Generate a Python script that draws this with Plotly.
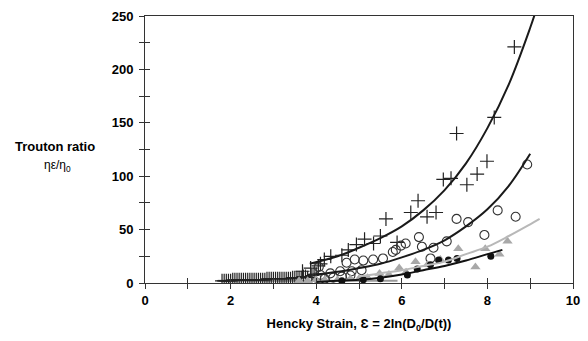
import plotly.graph_objects as go

# ---- data ----
cross_x = [1.8, 1.85, 1.9, 1.95, 1.99, 2.0, 2.05, 2.1, 2.15, 2.2, 2.25, 2.3, 2.35, 2.4, 2.45, 2.5, 2.55, 2.6,
           2.65, 2.7, 2.75, 2.8, 2.85, 2.9, 2.95, 3.0, 3.05, 3.1, 3.15, 3.2, 3.25, 3.3, 3.35, 3.4, 3.45, 3.5,
           3.55, 3.6, 3.65, 3.68, 3.7, 3.75, 3.8, 3.87, 3.9, 3.95, 4.0, 4.05, 4.1, 4.19, 4.34, 4.60, 4.75,
           4.94, 5.13, 5.34, 5.50, 5.63, 5.89, 6.21, 6.38, 6.59, 6.80, 6.97, 7.15, 7.28, 7.52, 7.76, 7.99,
           8.16, 8.63]
cross_y = [2, 2, 2, 2, -3, 2, 3, 3, 3, 3, 3, 3, 3, 3, 3, 3, 3, 3,
           3, 3, 3, 3, 4, 4, 4, 4, 4, 4, 4, 4, 4, 4, 4, 4, 5, 5,
           5, 5, 5, 11, 6, 6, 5, 14, 7, 8, 8, 16, 18, 22, 25, 26, 31,
           36, 41, 37, 44, 60, 38, 66, 77, 62, 66, 97, 98, 140, 92, 102, 114,
           155, 221]

circle_x = [4.0, 4.06, 4.10, 4.2, 4.33, 4.4, 4.56, 4.6, 4.71, 4.8, 4.83, 4.90, 5.06, 5.10, 5.33, 5.56, 5.79,
            5.86, 5.98, 6.09, 6.40, 6.47, 6.67, 6.74, 7.05, 7.28, 7.55, 7.93, 8.24, 8.66, 8.93]
circle_y = [5, 15, 7.5, 4, 9, 5, 11, 6, 19, 7, 11, 22, 12, 21, 22, 23, 29,
            31, 35, 37, 43, 34, 23, 33, 39, 60, 57, 45, 68, 62, 111]

tri_x = [3.6, 3.8, 4.0, 4.2, 4.5, 4.8, 5.0, 5.2, 5.48, 5.7, 5.94, 6.1, 6.32, 6.6, 6.9, 7.32, 7.72, 7.95, 8.28, 8.47]
tri_y = [2, 2, 3, 3, 3, 4, 4, 5, 9, 8, 14, 10, 20, 17, 22, 32, 15, 32, 27, 39]

dot_x = [4.6, 5.10, 5.5, 6.13, 6.36, 6.67, 6.86, 7.09, 7.29, 8.08]
dot_y = [2, 3, 4, 7.5, 13, 17, 21.5, 21.5, 23, 25]

# trend curves
cross_fit_x = [3.85, 4.5, 5.0, 5.5, 6.0, 6.5, 7.0, 7.5, 8.0, 8.5, 9.0, 9.15]
cross_fit_y = [18, 25, 33, 42, 53, 68, 87, 112, 145, 186, 239, 257]
circle_fit_x = [4.0, 4.5, 5.0, 5.5, 6.0, 6.5, 7.0, 7.5, 8.0, 8.5, 9.0]
circle_fit_y = [8, 10.5, 14, 18, 24, 31, 40, 53, 69, 91, 121]
tri_fit_x = [5.0, 5.5, 6.0, 6.5, 7.0, 7.5, 8.0, 8.5, 9.0, 9.22]
tri_fit_y = [6, 9, 12, 16, 20, 27, 34, 44, 55, 60]
dot_fit_x = [4.0, 4.5, 5.0, 5.5, 6.0, 6.5, 7.0, 7.5, 8.0, 8.35]
dot_fit_y = [1, 2, 3, 5, 8, 12, 16, 21, 27, 31]
base_fit_x = [1.7, 5.9]
base_fit_y = [2, 2]

x_ticks = [0, 2, 4, 6, 8, 10]
y_ticks = [0, 50, 100, 150, 200, 250]

FONT = "Liberation Sans, Arial, sans-serif"
BOLD = dict(family=FONT, size=13, color="black", weight="bold")

fig = go.Figure()
fig.add_trace(go.Scatter(x=base_fit_x, y=base_fit_y, mode="lines",
                         line=dict(color="#9a9a9a", width=2)))
fig.add_trace(go.Scatter(x=cross_x, y=cross_y, mode="markers",
                         marker=dict(symbol="cross-thin-open", size=10, color="#222",
                                     line=dict(width=1.2, color="#222"))))
fig.add_trace(go.Scatter(x=circle_x, y=circle_y, mode="markers",
                         marker=dict(symbol="circle-open", size=9, color="#333",
                                     line=dict(width=1.1, color="#333"))))
fig.add_trace(go.Scatter(x=tri_x, y=tri_y, mode="markers",
                         marker=dict(symbol="triangle-up", size=9, color="#a8a8a8")))
fig.add_trace(go.Scatter(x=dot_x, y=dot_y, mode="markers",
                         marker=dict(symbol="circle", size=7, color="#111")))
fig.add_trace(go.Scatter(x=cross_fit_x, y=cross_fit_y, mode="lines", line_shape="spline",
                         line=dict(color="#1a1a1a", width=2)))
fig.add_trace(go.Scatter(x=circle_fit_x, y=circle_fit_y, mode="lines", line_shape="spline",
                         line=dict(color="#1a1a1a", width=2)))
fig.add_trace(go.Scatter(x=tri_fit_x, y=tri_fit_y, mode="lines", line_shape="spline",
                         line=dict(color="#b8b8b8", width=2)))
fig.add_trace(go.Scatter(x=dot_fit_x, y=dot_fit_y, mode="lines", line_shape="spline",
                         line=dict(color="#111", width=2)))
# invisible trace to anchor the overlay axes (inner half of the crossing ticks)
fig.add_trace(go.Scatter(x=[0], y=[0], xaxis="x2", yaxis="y2", mode="markers",
                         marker=dict(opacity=0), hoverinfo="skip"))

fig.update_layout(
    width=588, height=341,
    margin=dict(l=145, r=8, t=16, b=58),
    paper_bgcolor="white", plot_bgcolor="white",
    showlegend=False,
    font=dict(family=FONT, color="black"),
    xaxis=dict(range=[0, 10], tickvals=x_ticks, ticks="outside", ticklen=5, tickwidth=1,
               tickcolor="#333", showline=True, linecolor="#333", linewidth=1, mirror=True,
               showgrid=False, zeroline=False, tickfont=BOLD,
               minor=dict(dtick=1, ticks="outside", ticklen=5, tickcolor="#333"),
               title=dict(text="Hencky Strain, Ɛ = 2ln(D<sub>0</sub>/D(t))",
                          font=BOLD, standoff=12)),
    yaxis=dict(range=[0, 250], tickvals=y_ticks, ticks="outside", ticklen=5, tickwidth=1,
               tickcolor="#333", showline=True, linecolor="#333", linewidth=1, mirror=True,
               showgrid=False, zeroline=False, tickfont=BOLD, ticklabelstandoff=3,
               minor=dict(dtick=25, ticks="outside", ticklen=5, tickcolor="#333")),
    xaxis2=dict(range=[0, 10], overlaying="x", tickvals=list(range(0, 11)), ticks="inside",
                ticklen=5, tickcolor="#333", showticklabels=False, showline=False,
                showgrid=False, zeroline=False, side="bottom"),
    yaxis2=dict(range=[0, 250], overlaying="y", tickvals=list(range(0, 251, 25)), ticks="inside",
                ticklen=5, tickcolor="#333", showticklabels=False, showline=False,
                showgrid=False, zeroline=False, side="left"),
)

fig.add_annotation(text="Trouton ratio", xref="paper", yref="paper",
                   x=-0.21, y=0.51, xanchor="center", showarrow=False,
                   font=BOLD)
fig.add_annotation(text="ηε/η<sub>0</sub>", xref="paper", yref="paper",
                   x=-0.205, y=0.44, xanchor="center", showarrow=False,
                   font=dict(family=FONT, size=12, color="black"))

fig.write_html("out.html")
